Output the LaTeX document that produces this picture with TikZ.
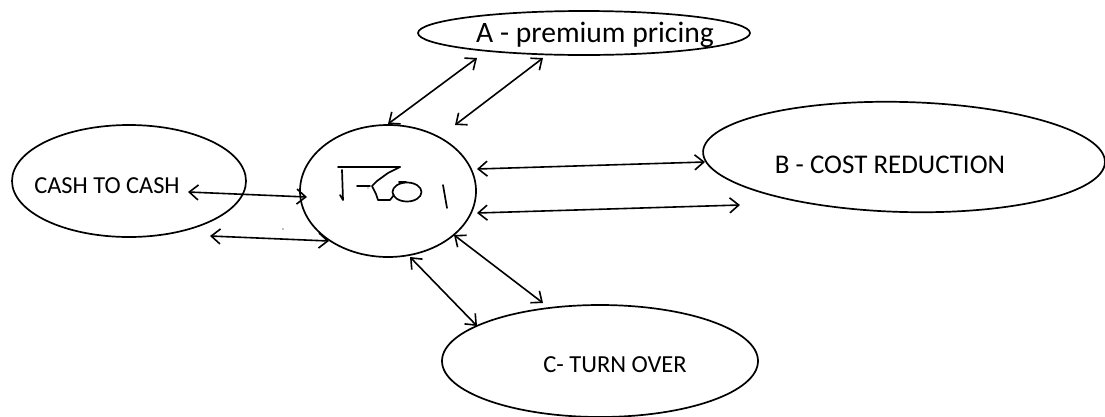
\documentclass[tikz,border=0pt]{standalone}
\usepackage{fontspec}
\setmainfont{Carlito}
\usetikzlibrary{shapes.geometric,arrows.meta}
\begin{document}
\begin{tikzpicture}[x=1pt,y=-1pt,
  ell/.style={draw,ellipse,line width=1.7pt,inner sep=0pt},
  lbl/.style={anchor=base,inner sep=0pt},
  dbl/.style={line width=1.6pt,{Straight Barb[length=9pt,width=15pt]}-{Straight Barb[length=9pt,width=15pt]}},
  hand/.style={line width=1.7pt,line cap=round,line join=round}]
\useasboundingbox (0,0) rectangle (1105,416);
% ellipses
\node[ell,minimum width=332pt,minimum height=44pt] (A) at (584,33) {};
\node[ell,minimum width=176pt,minimum height=132pt] (roi) at (388,191) {};
\node[ell,minimum width=234pt,minimum height=112pt] (cash) at (129,181) {};
\node[ell,minimum width=402pt,minimum height=110pt,rotate=-1.5] (B) at (904,157) {};
\node[ell,minimum width=316pt,minimum height=112pt] (C) at (600,361) {};
% labels
\node[lbl,font=\fontsize{29.6}{33}\selectfont] (Atxt) at (595,42) {A - premium pricing};
\node[lbl,font=\fontsize{24.4}{28}\selectfont] (cashtxt) at (107,193) {CASH TO CASH};
\node[lbl,font=\fontsize{27}{30}\selectfont] (Btxt) at (890,173) {B - COST REDUCTION};
\node[lbl,font=\fontsize{24.5}{28}\selectfont] (Ctxt) at (615,372) {C- TURN OVER};
% handwriting in centre
\draw[hand] (338,167) -- (400,167);
\draw[hand] (342,170) -- (343,200) (340,195) -- (343,200);
\draw[hand] (357,186) -- (370,186);
\draw[hand] (400,167) -- (388,173) -- (377,181) -- (372,186) -- (376,194) -- (378,200) -- (390,200) -- (394,195);
\draw[hand] (407,192) ellipse (14.5pt and 9.5pt);
\draw[hand] (399,182) -- (406,182);
\draw[hand] (443,185) -- (447,208);
% specks
\fill[gray] (283,229) circle (0.8pt);
\fill[gray!70] (368,188) circle (0.8pt);
% connector end points
\coordinate (a1) at (477,58);  \coordinate (r1) at (388,124);
\coordinate (a2) at (543,58);  \coordinate (r2) at (455,125);
\coordinate (c1) at (188,192); \coordinate (r3) at (307,197);
\coordinate (c2) at (210,236); \coordinate (r4) at (329,241);
\coordinate (r5) at (477,169); \coordinate (b1) at (705,162);
\coordinate (r6) at (477,213); \coordinate (b2) at (740,205);
\coordinate (r7) at (410,257); \coordinate (t1) at (477,326);
\coordinate (r8) at (454,235); \coordinate (t2) at (543,303);
% connectors
\draw[dbl] (a1) -- (r1);
\draw[dbl] (a2) -- (r2);
\draw[dbl] (c1) -- (r3);
\draw[dbl] (c2) -- (r4);
\draw[dbl] (r5) -- (b1);
\draw[dbl] (r6) -- (b2);
\draw[dbl] (r7) -- (t1);
\draw[dbl] (r8) -- (t2);
\end{tikzpicture}
\end{document}
